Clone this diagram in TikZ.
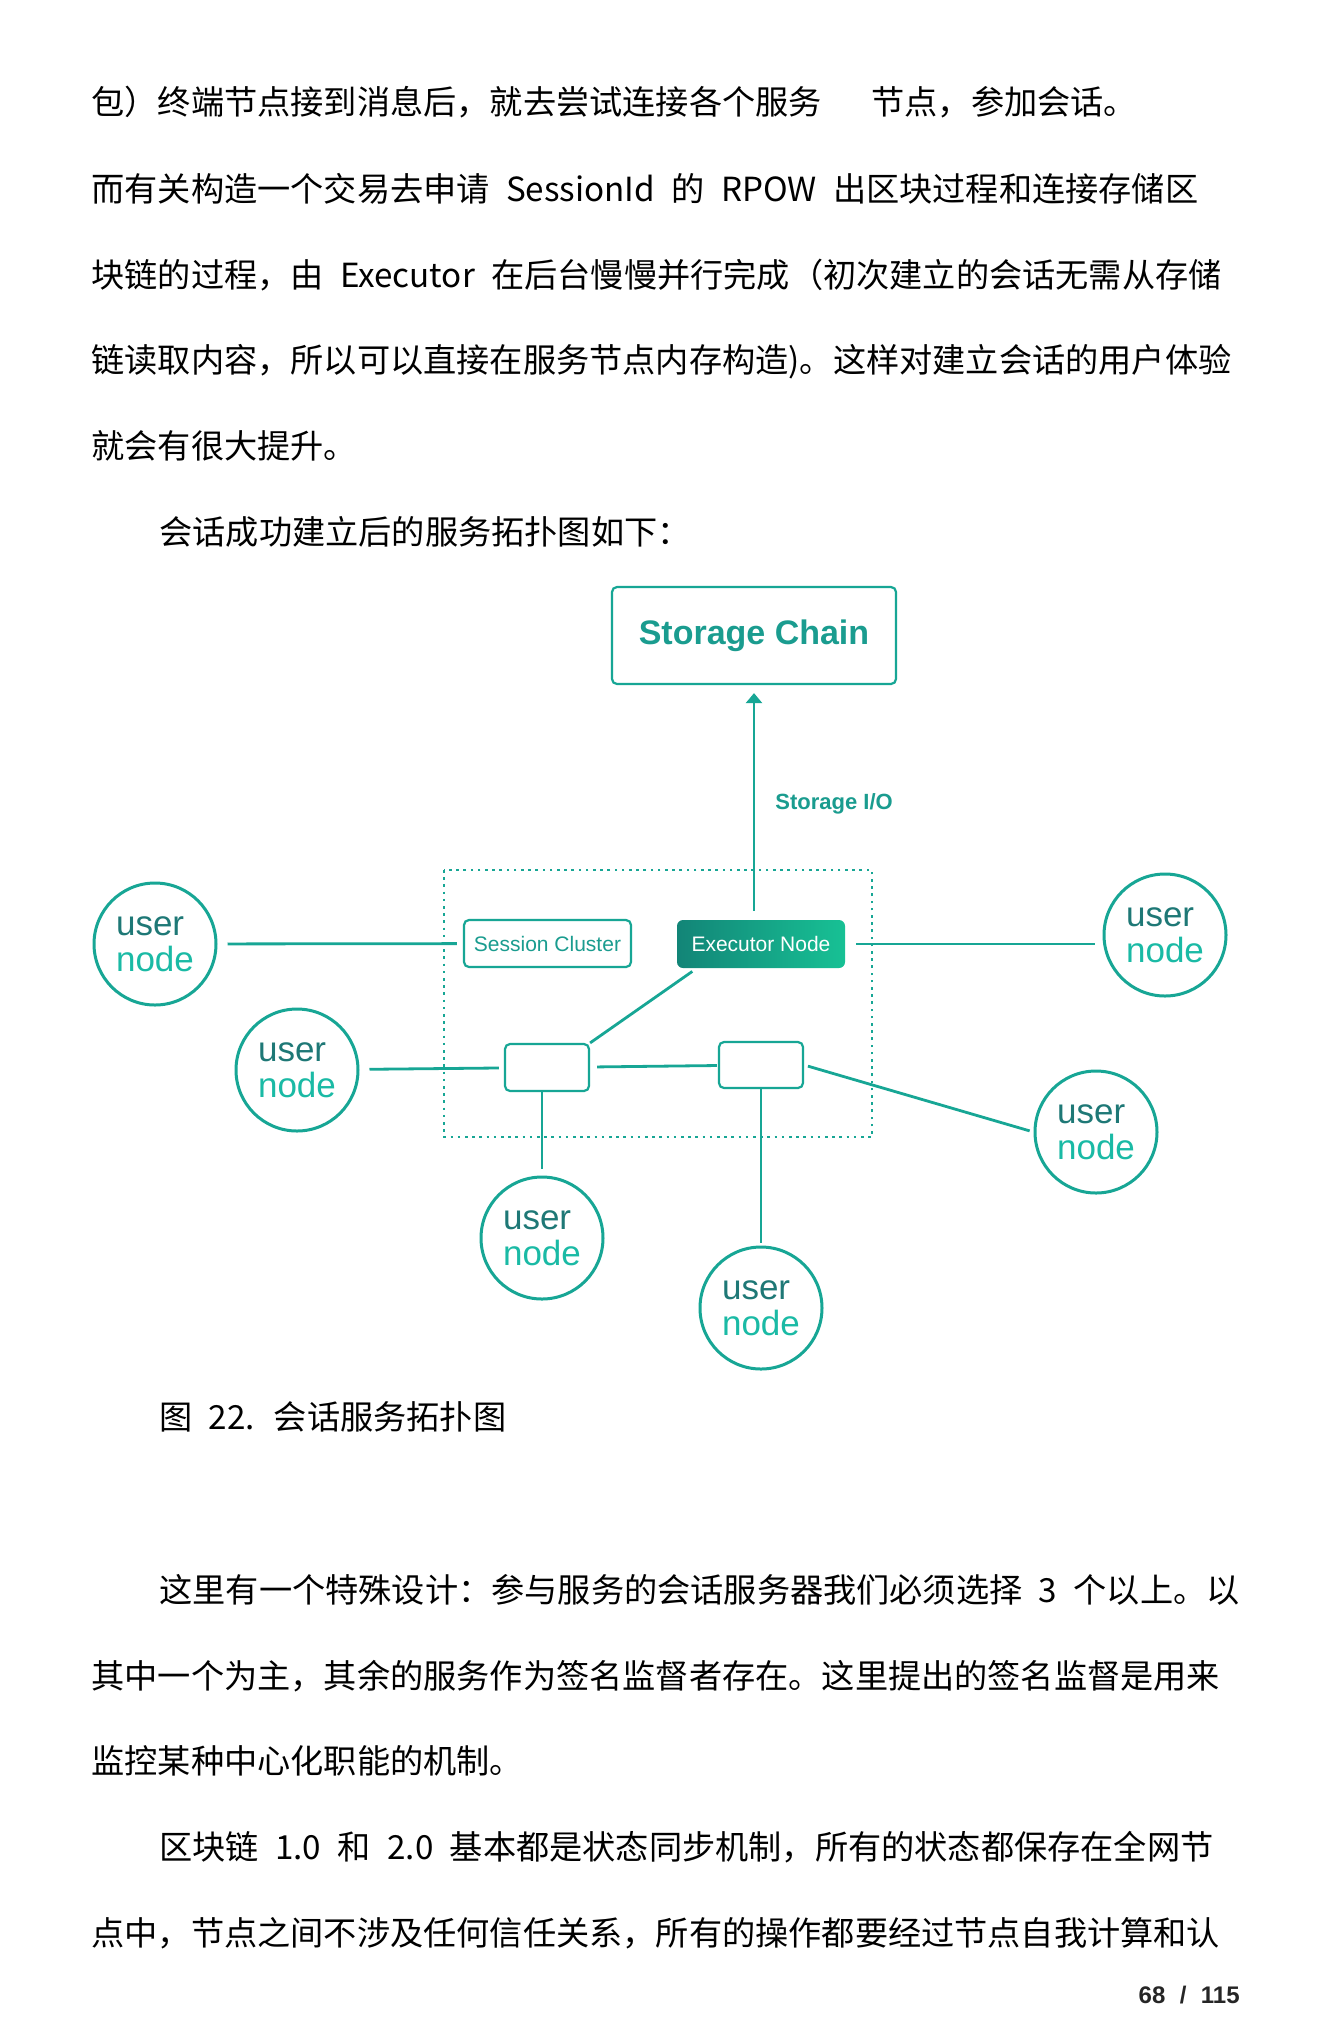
\documentclass[tikz,border=0pt]{standalone}
\usepackage{fontspec}
\setmainfont[WordSpace=2.2]{Noto Sans CJK SC}
\newfontfamily\diagfont{Liberation Sans}
\usetikzlibrary{arrows.meta}
\definecolor{teal1}{RGB}{23,166,149}
\definecolor{tealdark}{RGB}{30,120,118}
\definecolor{teallight}{RGB}{26,186,165}
\definecolor{tealmid}{RGB}{26,156,143}
\tikzset{%
  para/.style = {anchor=base west,inner sep=0pt,
        font=\fontsize{16.6pt}{20pt}\selectfont},
  user/.style = {circle,draw=teal1,line width=1.5pt,minimum size=61pt,
        inner sep=0pt,align=left,font=\diagfont\fontsize{17.5pt}{18pt}\selectfont},
  sbox/.style = {rectangle,rounded corners=2.5pt,draw=teal1,line width=1.1pt,
        inner sep=0pt},
  link/.style = {draw=teal1,line width=1.4pt},
  ioarrow/.style = {-{Triangle[width=8pt,length=5pt]},draw=teal1,line width=1.2pt}
}
\newcommand{\usertext}{{\color{tealdark}user}\\{\color{teallight}node}}

\begin{document}
\begin{tikzpicture}[x=0.5pt,y=-0.5pt]
   \useasboundingbox[fill=white] (0,0) rectangle (1332,2041);
   % text above the figure
   \node[para] (l1) at (91,114.3) {包）终端节点接到消息后，就去尝试连接各个服务\hspace{1.5em}节点，参加会话。};
   \node[para] (l2) at (91,201.4) {而有关构造一个交易去申请 SessionId 的 RPOW 出区块过程和连接存储区};
   \node[para] (l3) at (91,287.3) {块链的过程，由 Executor 在后台慢慢并行完成（初次建立的会话无需从存储};
   \node[para] (l4) at (91,372.8) {链读取内容，所以可以直接在服务节点内存构造)。这样对建立会话的用户体验};
   \node[para] (l5) at (91,458.8) {就会有很大提升。};
   \node[para] (l6) at (159,544.8) {会话成功建立后的服务拓扑图如下：};

   % the figure
   \node[sbox,minimum width=142pt,minimum height=48.5pt,text=tealmid,
        font=\diagfont\bfseries\fontsize{17pt}{20pt}\selectfont] (chain) at (754,635.5) {Storage Chain};
   \node[anchor=west,text=tealmid,inner sep=0pt,
        font=\diagfont\bfseries\fontsize{11pt}{13pt}\selectfont] (io) at (775,804) {Storage I/O};
   \draw[teal1,line width=1.3pt,dash pattern=on 1.3pt off 2.3pt] (444,870) rectangle (872,1137);

   \node[sbox,minimum width=83.5pt,minimum height=23.5pt,text=tealmid,
        font=\diagfont\fontsize{10.5pt}{12pt}\selectfont] (sc) at (547.5,943.5) {Session Cluster};
   \node[sbox,draw=none,rounded corners=3pt,left color=teal1!80!black,right color=teallight!90!green,
        text=white,minimum width=84pt,minimum height=24pt,
        font=\diagfont\fontsize{10.5pt}{12pt}\selectfont] (exec) at (761,944) {Executor Node};
   \node[sbox,minimum width=42pt,minimum height=23.5pt] (b1) at (547,1067.5) {};
   \node[sbox,minimum width=42pt,minimum height=23pt] (b2) at (761,1065) {};

   \node[user] (u1) at (155,944) {\usertext};
   \node[user] (u2) at (297,1070) {\usertext};
   \node[user] (u3) at (1165,935) {\usertext};
   \node[user] (u4) at (1096,1132) {\usertext};
   \node[user] (u5) at (542,1238) {\usertext};
   \node[user] (u6) at (761,1308) {\usertext};

   \draw[ioarrow,shorten <=4pt,shorten >=4pt] (exec.north -| chain.south) -- (chain.south);
   \draw[link,shorten <=5pt,shorten >=3pt] (u1) -- (sc);
   \draw[link,shorten <=5pt,shorten >=4pt] (exec.east) -- (exec.east -| u3.west);
   \draw[link,shorten <=5pt,shorten >=2.5pt] (u2) -- (b1);
   \draw[link,shorten <=3.5pt,shorten >=0.5pt] (b1) -- (b2);
   \draw[link,shorten <=2pt,shorten >=2pt] (b2.east) -- (u4.west);
   \draw[link,shorten <=2pt] (exec.201) -- (b1.north east);
   \draw[link,shorten >=3.5pt] (b1.south -| u5.north) -- (u5.north);
   \draw[link,shorten >=1.5pt] (b2.south) -- (u6.north);

   % caption and text below
   \node[para] (cap) at (159,1429.4) {图 22. 会话服务拓扑图};
   \node[para] (p1) at (159,1602.4) {这里有一个特殊设计：参与服务的会话服务器我们必须选择 3 个以上。以};
   \node[para] (p2) at (91,1688.2) {其中一个为主，其余的服务作为签名监督者存在。这里提出的签名监督是用来};
   \node[para] (p3) at (91,1773.8) {监控某种中心化职能的机制。};
   \node[para] (p4) at (159,1859.8) {区块链 1.0 和 2.0 基本都是状态同步机制，所有的状态都保存在全网节};
   \node[para] (p5) at (91,1945.8) {点中，节点之间不涉及任何信任关系，所有的操作都要经过节点自我计算和认};
   \node[anchor=base east,inner sep=0pt,text=black!85,
        font=\diagfont\bfseries\fontsize{12pt}{14pt}\selectfont] (pg) at (1240,2003) {68\hspace{0.6em}/\hspace{0.6em}115};
\end{tikzpicture}
\end{document}
